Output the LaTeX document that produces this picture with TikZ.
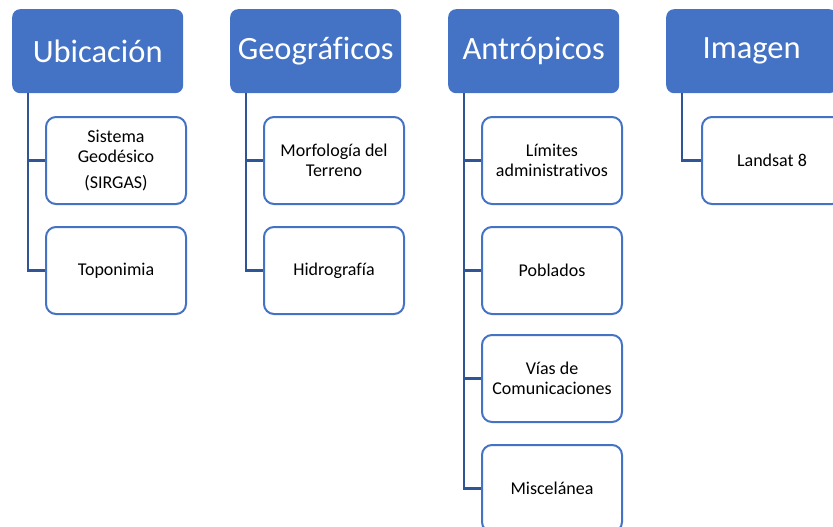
\documentclass[tikz,border=0pt]{standalone}
\usepackage{fontspec}
\setmainfont{Carlito}[Ligatures=NoCommon]
\definecolor{hdr}{HTML}{4472C4}
\definecolor{cbord}{HTML}{4472C4}
\definecolor{conn}{HTML}{2F5597}
\begin{document}
\begin{tikzpicture}[x=1pt,y=-1pt,
  header/.style={draw=none,fill=hdr,rounded corners=8pt,minimum width=171pt,minimum height=84pt,anchor=north west,inner sep=0pt,text=white,font=\fontsize{32.5}{36}\selectfont},
  child/.style={draw=cbord,line width=2pt,fill=white,rounded corners=10pt,minimum width=140pt,minimum height=87pt,anchor=north west,inner sep=0pt,align=center,font=\fontsize{18}{20.5}\selectfont},
  link/.style={draw=conn,line width=2.5pt}]
\useasboundingbox (0,0) rectangle (833,527);
\clip (0,0) rectangle (833,527);
% Ubicacion
\node[header] (h1) at (12,9) {Ubicación};
\node[child] (u1) at (45,116) {Sistema\\Geodésico\\[5pt](SIRGAS)};
\node[child] (u2) at (45,226) {Toponimia};
\draw[link] (h1.south west -| 28,0) |- (u2.west);
\draw[link] (u1.west -| 28,0) -- (u1.west);
% Geograficos
\node[header] (h2) at (230,9) {Geográficos};
\node[child] (g1) at (263,116) {Morfología del\\Terreno};
\node[child] (g2) at (263,226) {Hidrografía};
\draw[link] (h2.south west -| 246,0) |- (g2.west);
\draw[link] (g1.west -| 246,0) -- (g1.west);
% Antropicos
\node[header] (h3) at (448,9) {Antrópicos};
\node[child] (a1) at (481,116) {Límites\\administrativos};
\node[child] (a2) at (481,226) {Poblados};
\node[child] (a3) at (481,334) {Vías de\\Comunicaciones};
\node[child] (a4) at (481,444) {Miscelánea};
\draw[link] (h3.south west -| 464,0) |- (a4.west);
\draw[link] (a1.west -| 464,0) -- (a1.west);
\draw[link] (a2.west -| 464,0) -- (a2.west);
\draw[link] (a3.west -| 464,0) -- (a3.west);
% Imagen
\node[header] (h4) at (666,9) {Imagen};
\node[child] (i1) at (701,116) {Landsat 8};
\draw[link] (h4.south west -| 682,0) |- (i1.west);
\end{tikzpicture}
\end{document}
